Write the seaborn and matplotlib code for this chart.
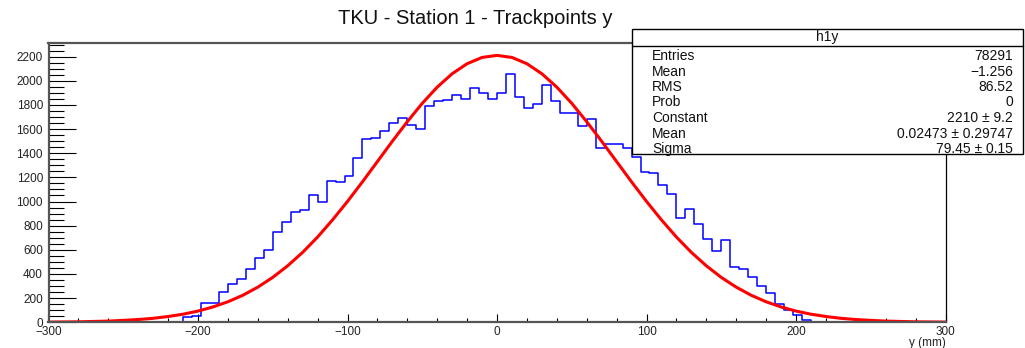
import numpy as np
import pandas as pd
import seaborn as sns
import matplotlib.pyplot as plt
from matplotlib.ticker import MultipleLocator
from matplotlib.patches import Rectangle
from matplotlib.lines import Line2D

# h1y: 100 bins of 6 mm from -300 to 300 mm
y_lo, y_hi, n_bins = -300, 300, 100
counts = [
    0, 0, 0, 0, 0, 0, 0, 0, 0, 0,
    3, 2, 0, 0, 4, 40, 52, 157, 157, 248,
    314, 358, 441, 535, 599, 748, 831, 916, 928, 1057,
    1000, 1170, 1159, 1214, 1364, 1521, 1525, 1585, 1648, 1690,
    1634, 1604, 1792, 1833, 1844, 1883, 1850, 1943, 1897, 1850,
    1897, 2054, 1864, 1778, 1808, 1966, 1833, 1736, 1736, 1628,
    1681, 1441, 1479, 1479, 1441, 1372, 1248, 1234, 1140, 1065,
    861, 938, 817, 693, 591, 685, 461, 441, 377, 302,
    245, 150, 100, 62, 19, 4, 4, 0, 3, 0,
    0, 0, 0, 0, 0, 0, 0, 0, 0, 0,
]

# gaus fit, every 10 mm
fit_y = list(range(-300, 301, 10))
fit_counts = [
    2, 3, 4, 7, 10, 16, 23, 33, 48, 67,
    93, 127, 170, 224, 291, 372, 468, 579, 706, 848,
    1001, 1163, 1331, 1499, 1661, 1813, 1947, 2058, 2141, 2193,
    2210,
    2193, 2141, 2058, 1947, 1813, 1661, 1499, 1331, 1163, 1001,
    848, 706, 579, 468, 372, 291, 224, 170, 127, 93,
    67, 48, 33, 23, 16, 10, 7, 4, 3, 2,
]

stat_names = ["Entries", "Mean", "RMS", "Prob", "Constant", "Mean", "Sigma"]
stat_values = ["78291", "\u22121.256", "86.52", "0", "2210 \u00b1 9.2",
               "0.02473 \u00b1 0.29747", "79.45 \u00b1 0.15"]

sns.set_theme(style="white")
plt.rcParams["font.family"] = ["Liberation Sans", "DejaVu Sans"]

W, H = 1025, 348
fig = plt.figure(figsize=(W / 100, H / 100), dpi=100)
ax = fig.add_axes([48.5 / W, 1 - 322.3 / H, 897 / W, 279 / H])

bin_w = (y_hi - y_lo) / n_bins
hist = pd.DataFrame({"y": y_lo + bin_w * (np.arange(n_bins) + 0.5), "n": counts})
sns.histplot(data=hist, x="y", weights="n", binwidth=bin_w, binrange=(y_lo, y_hi),
             element="step", fill=False, color="#0000ff", linewidth=1.1, ax=ax)
sns.lineplot(x=fit_y, y=fit_counts, color="#ff0000", linewidth=2.2, ax=ax)

ax.set_xlim(y_lo, y_hi)
ax.set_ylim(0, 2310)
ax.set_ylabel("")
ax.set_xlabel("y (mm)", fontsize=8.5)
ax.xaxis.set_label_coords(1.0, -(343 - 322.3) / 279)
ax.xaxis.label.set_ha("right")
ax.xaxis.label.set_va("center")

ax.xaxis.set_major_locator(MultipleLocator(100))
ax.xaxis.set_minor_locator(MultipleLocator(20))
ax.yaxis.set_major_locator(MultipleLocator(200))
ax.yaxis.set_minor_locator(MultipleLocator(50))
ax.tick_params(axis="both", which="both", direction="in", color="black",
               width=0.8, labelsize=8.5, labelcolor="#222222")
ax.tick_params(axis="y", which="major", length=19.5, pad=4)
ax.tick_params(axis="y", which="minor", length=10.5)
ax.tick_params(axis="x", which="major", length=5.8, pad=3)
ax.tick_params(axis="x", which="minor", length=3.2)
ax.tick_params(left=True, bottom=True, which="both")

for side in ["left", "bottom", "top"]:
    ax.spines[side].set_color("#555555")
    ax.spines[side].set_linewidth(1.6)
ax.spines["right"].set_color("black")
ax.spines["right"].set_linewidth(0.9)

fig.text(475 / W, 1 - 18 / H, "TKU - Station 1 - Trackpoints y",
         ha="center", va="center", fontsize=14.5, color="#111111")

# stats box
bx0, bx1, by0, by1 = 631.7, 1023, 29, 154.3
fig.add_artist(Rectangle((bx0 / W, 1 - by1 / H), (bx1 - bx0) / W, (by1 - by0) / H,
                         transform=fig.transFigure, facecolor="white",
                         edgecolor="black", linewidth=1.0, zorder=5))
fig.add_artist(Line2D([bx0 / W, bx1 / W], [1 - 45.7 / H, 1 - 45.7 / H],
                      transform=fig.transFigure, color="black", linewidth=1.0, zorder=6))
fig.text((bx0 + bx1) / 2 / W, 1 - 37.5 / H, "h1y", ha="center", va="center",
         fontsize=10, color="#111111", zorder=7)
for i, (name, val) in enumerate(zip(stat_names, stat_values)):
    yy = 1 - (56 + 15.5 * i) / H
    fig.text(652 / W, yy, name, ha="left", va="center", fontsize=10,
             color="#111111", zorder=7)
    fig.text(1013 / W, yy, val, ha="right", va="center", fontsize=10,
             color="#111111", zorder=7)

fig.savefig("out.png", dpi=100)
